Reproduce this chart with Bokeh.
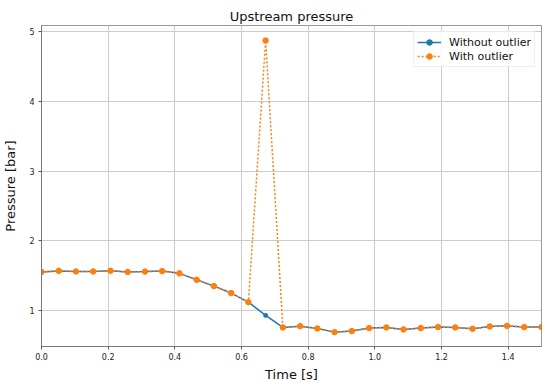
from bokeh.plotting import figure
from bokeh.models import ColumnDataSource, FixedTicker, Range1d
from bokeh.embed import file_html
from bokeh.resources import INLINE

time_s = [0.0, 0.0517, 0.1034, 0.1552, 0.2069, 0.2586, 0.3103, 0.3621, 0.4138, 0.4655,
          0.5172, 0.5690, 0.6207, 0.6724, 0.7241, 0.7759, 0.8276, 0.8793, 0.9310, 0.9828,
          1.0345, 1.0862, 1.1379, 1.1897, 1.2414, 1.2931, 1.3448, 1.3966, 1.4483, 1.5]
without_outlier = [1.553, 1.568, 1.560, 1.560, 1.570, 1.553, 1.558, 1.565, 1.533, 1.440,
                   1.350, 1.250, 1.120, 0.930, 0.757, 0.776, 0.743, 0.690, 0.705, 0.748,
                   0.757, 0.729, 0.748, 0.762, 0.757, 0.738, 0.771, 0.780, 0.762, 0.762]
with_outlier = [1.553, 1.568, 1.560, 1.560, 1.570, 1.553, 1.558, 1.565, 1.533, 1.440,
                1.350, 1.250, 1.120, 4.870, 0.757, 0.776, 0.743, 0.690, 0.705, 0.748,
                0.757, 0.729, 0.748, 0.762, 0.757, 0.738, 0.771, 0.780, 0.762, 0.762]
x_ticks = [0.0, 0.2, 0.4, 0.6, 0.8, 1.0, 1.2, 1.4]
y_ticks = [1, 2, 3, 4, 5]

src = ColumnDataSource(dict(t=time_s, a=without_outlier, b=with_outlier))

FONT = "DejaVu Sans"
p = figure(width=550, height=388, output_backend="svg", toolbar_location=None,
           x_range=Range1d(0, 1.5), y_range=Range1d(0.484, 5.086),
           min_border_left=38, min_border_right=9, min_border_top=25, min_border_bottom=42)

p.title.text = "Upstream pressure"
p.title.align = "center"
p.title.text_font = FONT
p.title.text_font_size = "13px"
p.title.text_font_style = "normal"
p.title.text_color = "#111111"
p.title.standoff = 4

blue = "#1f77b4"
orange = "#ff7f0e"
p.line("t", "a", source=src, line_color=blue, line_width=1.5, legend_label="Without outlier")
p.scatter("t", "a", source=src, size=4, fill_color=blue, line_color=blue, legend_label="Without outlier")
p.line("t", "b", source=src, line_color=orange, line_width=1.5, line_dash="2 2", legend_label="With outlier")
p.scatter("t", "b", source=src, size=5.5, fill_color=orange, line_color=orange, legend_label="With outlier")

for ax in (p.xaxis[0], p.yaxis[0]):
    ax.axis_line_color = "#777777"
    ax.major_tick_line_color = "#555555"
    ax.major_tick_out = 3
    ax.major_tick_in = 0
    ax.minor_tick_line_color = None
    ax.major_label_text_font = FONT
    ax.major_label_text_font_size = "8px"
    ax.major_label_text_color = "#222222"
    ax.axis_label_text_font = FONT
    ax.axis_label_text_font_size = "13px"
    ax.axis_label_text_font_style = "normal"
    ax.axis_label_text_color = "#111111"
    ax.major_label_standoff = 4

p.xaxis.axis_label = "Time [s]"
p.yaxis.axis_label = "Pressure [bar]"
p.xaxis.axis_label_standoff = 4
p.yaxis.axis_label_standoff = 8
p.xaxis.major_label_standoff = 3
p.xaxis.ticker = FixedTicker(ticks=x_ticks)
p.yaxis.ticker = FixedTicker(ticks=y_ticks)
p.xaxis.major_label_overrides = {v: f"{v:.1f}" for v in x_ticks}

p.xgrid.ticker = FixedTicker(ticks=x_ticks)
p.ygrid.ticker = FixedTicker(ticks=y_ticks)
p.grid.grid_line_color = "#cccccc"
p.grid.grid_line_width = 1
p.outline_line_color = "#999999"

p.legend.location = "top_right"
p.legend.label_text_font = FONT
p.legend.label_text_font_size = "11px"
p.legend.label_text_color = "#111111"
p.legend.border_line_color = "#dddddd"
p.legend.background_fill_alpha = 0.8
p.legend.margin = 6
p.legend.padding = 3
p.legend.spacing = 0
p.legend.label_height = 14
p.legend.glyph_height = 14
p.legend.glyph_width = 24
p.legend.label_standoff = 8

open("out.html", "w").write(file_html(p, INLINE))
